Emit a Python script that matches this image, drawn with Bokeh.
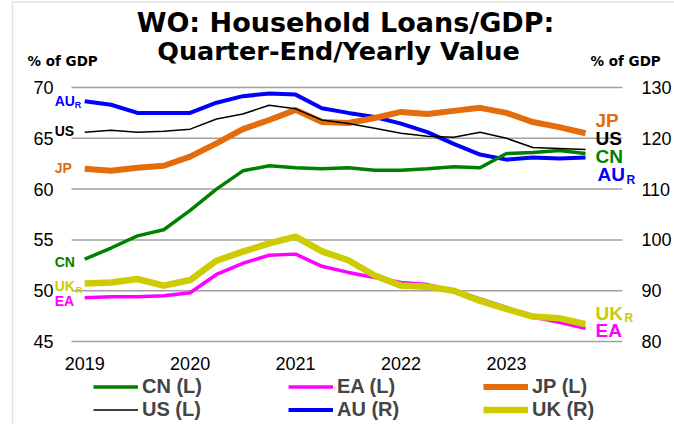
from bokeh.plotting import figure
from bokeh.models import (Range1d, Legend, LegendItem, Label, LabelSet,
                          ColumnDataSource, BoxAnnotation)
from bokeh.core.properties import value
from bokeh.embed import file_html
from bokeh.resources import INLINE

# ---------------- data ----------------
QUARTERS = ["2019Q1", "2019Q2", "2019Q3", "2019Q4", "2020Q1", "2020Q2", "2020Q3", "2020Q4",
            "2021Q1", "2021Q2", "2021Q3", "2021Q4", "2022Q1", "2022Q2", "2022Q3", "2022Q4",
            "2023Q1", "2023Q2", "2023Q3", "2023Q4"]
YEAR_TICKS = [0, 4, 8, 12, 16]
YEAR_LABELS = ["2019", "2020", "2021", "2022", "2023"]
LEFT_TICKS = [45, 50, 55, 60, 65, 70]
RIGHT_TICKS = [80, 90, 100, 110, 120, 130]

CN = [53.1, 54.2, 55.4, 56.0, 57.9, 60.0, 61.8, 62.3, 62.1, 62.0,
      62.1, 61.85, 61.85, 62.0, 62.2, 62.1, 63.5, 63.6, 63.8, 63.5]
EA = [49.3, 49.4, 49.4, 49.5, 49.8, 51.6, 52.7, 53.5, 53.6, 52.4,
      51.8, 51.3, 50.8, 50.6, 50.05, 49.2, 48.35, 47.4, 46.9, 46.3]
JP = [62.0, 61.8, 62.1, 62.3, 63.2, 64.5, 65.9, 66.8, 67.8, 66.6,
      66.5, 67.0, 67.6, 67.4, 67.7, 68.0, 67.5, 66.6, 66.1, 65.5]
US = [65.6, 65.8, 65.6, 65.7, 65.9, 66.9, 67.4, 68.25, 67.9, 66.8,
      66.45, 66.0, 65.5, 65.2, 65.1, 65.6, 65.0, 64.1, 64.0, 63.9]
AU = [127.3, 126.6, 125.0, 125.0, 125.0, 127.0, 128.3, 128.8, 128.6, 125.9,
      125.0, 124.2, 122.9, 121.2, 118.9, 116.8, 115.8, 116.2, 116.0, 116.2]
UK = [91.4, 91.6, 92.3, 91.0, 92.1, 95.9, 97.7, 99.3, 100.65, 97.75,
      96.0, 93.0, 91.0, 90.8, 90.0, 88.0, 86.4, 84.9, 84.6, 83.4]

LEGEND_ORDER = ["CN", "EA", "JP", "US", "AU", "UK"]
LEGEND_LABELS = {"CN": "CN (L)", "EA": "EA (L)", "JP": "JP (L)",
                 "US": "US (L)", "AU": "AU (R)", "UK": "UK (R)"}

TITLE_1 = "WO: Household Loans/GDP:"
TITLE_2 = "Quarter-End/Yearly Value"
UNIT_LABEL = "% of GDP"

x = list(range(len(QUARTERS)))

FONT = "Liberation Sans"
TFONT = "DejaVu Sans"

W, H = 674, 424
# plot area spans category -0.5 .. 20.4 ; whole canvas is the frame
p = figure(width=W, height=H, output_backend="svg", toolbar_location=None,
           x_range=Range1d(-3.194, 22.375), y_range=Range1d(36.831, 78.563),
           x_axis_type=None, y_axis_type=None,
           min_border_left=0, min_border_right=0, min_border_top=0, min_border_bottom=0)
p.outline_line_color = None
p.extra_y_ranges = {"right": Range1d(63.661, 147.126)}

# horizontal gridlines (left-axis ticks)
p.segment(x0=-0.5, x1=20.4, y0=LEFT_TICKS, y1=LEFT_TICKS,
          line_color="#a0a0a0", line_width=1.5)

# axis tick labels
left_src = ColumnDataSource(dict(x=[-0.5] * len(LEFT_TICKS), y=LEFT_TICKS,
                                 t=[str(v) for v in LEFT_TICKS]))
right_src = ColumnDataSource(dict(x=[20.4] * len(RIGHT_TICKS), y=RIGHT_TICKS,
                                  t=[str(v) for v in RIGHT_TICKS]))
bottom_src = ColumnDataSource(dict(x=YEAR_TICKS, y=[LEFT_TICKS[0]] * len(YEAR_TICKS),
                                   t=YEAR_LABELS))
p.add_layout(LabelSet(x="x", y="y", text="t", source=left_src, x_offset=-18,
                      text_align="right", text_baseline="middle",
                      text_font=value(FONT), text_font_size=value("18px"), text_color="black"))
p.add_layout(LabelSet(x="x", y="y", text="t", source=right_src, y_range_name="right",
                      x_offset=19, text_align="left", text_baseline="middle",
                      text_font=value(FONT), text_font_size=value("18px"), text_color="black"))
p.add_layout(LabelSet(x="x", y="y", text="t", source=bottom_src, y_offset=-22,
                      text_align="center", text_baseline="middle",
                      text_font=value(FONT), text_font_size=value("18px"), text_color="black"))

colors = {"CN": "#008000", "EA": "#FF00FF", "JP": "#E46C0A",
          "US": "#000000", "AU": "#0000FF", "UK": "#CCCC00"}
widths = {"CN": 3.5, "EA": 3.5, "JP": 6, "US": 1.5, "AU": 4, "UK": 6.5}

r = {}
r["AU"] = p.line(x, AU, y_range_name="right", line_color=colors["AU"], line_width=widths["AU"])
r["JP"] = p.line(x, JP, line_color=colors["JP"], line_width=widths["JP"])
r["CN"] = p.line(x, CN, line_color=colors["CN"], line_width=widths["CN"])
r["EA"] = p.line(x, EA, line_color=colors["EA"], line_width=widths["EA"])
r["UK"] = p.line(x, UK, y_range_name="right", line_color=colors["UK"], line_width=widths["UK"])
r["US"] = p.line(x, US, line_color=colors["US"], line_width=widths["US"])

legend = Legend(items=[LegendItem(label=LEGEND_LABELS[k], renderers=[r[k]]) for k in LEGEND_ORDER],
                orientation="horizontal", ncols=3, location=(93, 3),
                padding=0, margin=0, spacing=0,
                glyph_width=45, glyph_height=23, label_height=23, label_width=146,
                label_standoff=4, border_line_alpha=0, background_fill_alpha=0,
                label_text_font=FONT, label_text_font_style="bold",
                label_text_font_size="20px")
p.add_layout(legend, "center")

# titles (screen units, measured from the canvas bottom-left; text centres)
p.add_layout(Label(x=345, y=H - 22, x_units="screen", y_units="screen", text=TITLE_1,
                   text_font=TFONT, text_font_style="bold", text_font_size="27px",
                   text_color="black", text_align="center", text_baseline="middle"))
p.add_layout(Label(x=338, y=H - 50, x_units="screen", y_units="screen", text=TITLE_2,
                   text_font=TFONT, text_font_style="bold", text_font_size="25.5px",
                   text_color="black", text_align="center", text_baseline="middle"))
for xs in (27, 590):
    p.add_layout(Label(x=xs, y=H - 60, x_units="screen", y_units="screen", text=UNIT_LABEL,
                       text_font=TFONT, text_font_style="bold", text_font_size="13.5px",
                       text_color="black", text_baseline="middle"))

# series name labels next to the first and last points (offsets in px, + = up)
series = {"CN": CN, "EA": EA, "JP": JP, "US": US, "AU": AU, "UK": UK}
right_keys = {"AU", "UK"}
left_off = {"AU": 0.7, "US": 1.7, "JP": 0.8, "CN": -2.8, "UK": -2.4, "EA": -3.2}
left_sub_off = {"AU": -3.8, "UK": -6.9}
right_off = {"JP": 12.7, "US": 10.5, "CN": -3.0, "AU": -16.4, "UK": 11.2, "EA": -2.2}
right_sub_off = {"AU": -22.4, "UK": 6.2}
right_xoff = {"JP": 10, "US": 10, "CN": 10, "AU": 12, "UK": 10, "EA": 10}
sub_w_left = {"AU": 20, "UK": 21}
sub_w_right = {"AU": 29, "UK": 29}

for k, vals in series.items():
    kw = {"y_range_name": "right"} if k in right_keys else {}
    p.add_layout(Label(x=0, y=vals[0], x_offset=-30, y_offset=left_off[k], text=k,
                       text_color=colors[k], text_font=FONT, text_font_style="bold",
                       text_font_size="14px", text_baseline="middle", **kw))
    p.add_layout(Label(x=len(vals) - 1, y=vals[-1], x_offset=right_xoff[k], y_offset=right_off[k],
                       text=k, text_color=colors[k], text_font=FONT,
                       text_font_style="bold", text_font_size="19px",
                       text_baseline="middle", **kw))
    if k in right_keys:
        p.add_layout(Label(x=0, y=vals[0], x_offset=-30 + sub_w_left[k], y_offset=left_sub_off[k],
                           text="R", text_color=colors[k], text_font=FONT, text_font_style="bold",
                           text_font_size="9px", text_baseline="middle", **kw))
        p.add_layout(Label(x=len(vals) - 1, y=vals[-1], x_offset=right_xoff[k] + sub_w_right[k],
                           y_offset=right_sub_off[k], text="R", text_color=colors[k],
                           text_font=FONT, text_font_style="bold", text_font_size="12px",
                           text_baseline="middle", **kw))

# chart frame edges (left and top)
p.add_layout(BoxAnnotation(left=12, right=W + 50, top=H - 1.5, bottom=-50,
                           left_units="screen", right_units="screen",
                           top_units="screen", bottom_units="screen",
                           fill_alpha=0, line_color="#a6a6a6", line_width=1.5))

open("out.html", "w").write(file_html(p, INLINE))
